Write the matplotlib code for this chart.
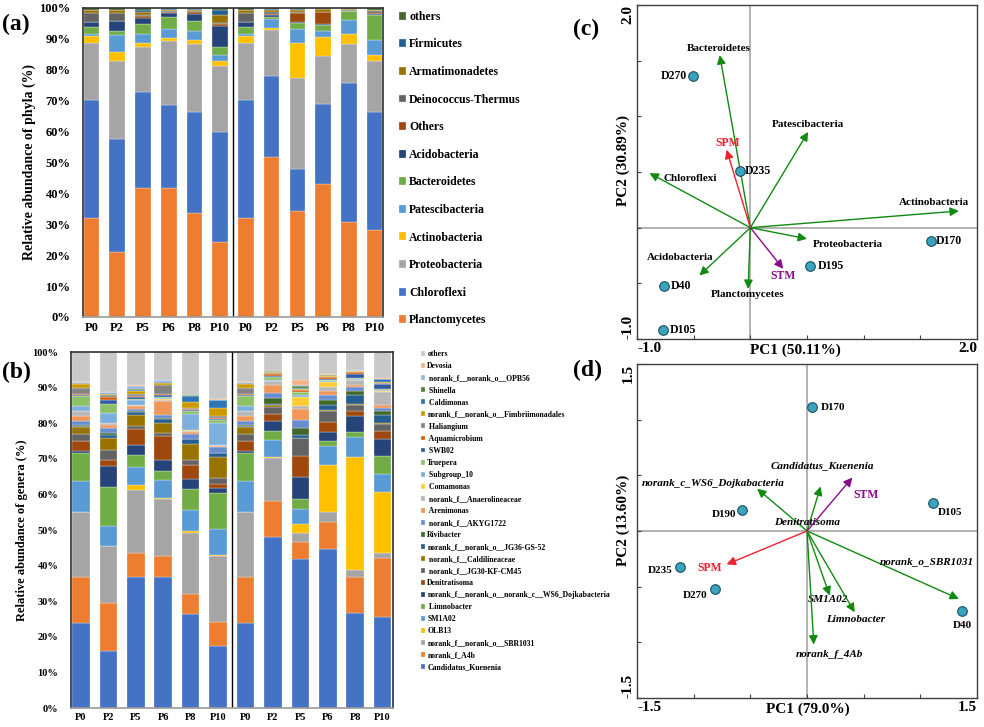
import matplotlib
matplotlib.use("Agg")
import matplotlib.pyplot as plt
import numpy as np

plt.rcParams["font.family"] = ["Liberation Serif", "DejaVu Serif"]
plt.rcParams["font.weight"] = "bold"
plt.rcParams["axes.labelweight"] = "bold"

# ---------------------------------------------------------------- data
SAMPLES = ["P0", "P2", "P5", "P6", "P8", "P10", "P0", "P2", "P5", "P6", "P8", "P10"]

# (a) phyla, bottom -> top
PHYLA = ["Planctomycetes", "Chloroflexi", "Proteobacteria", "Actinobacteria",
         "Patescibacteria", "Bacteroidetes", "Acidobacteria", "Others",
         "Deinococcus-Thermus", "Armatimonadetes", "Firmicutes", "others"]
PHYLA_COLORS = ["#ED7D31", "#4472C4", "#A5A5A5", "#FFC000", "#5B9BD5", "#70AD47",
                "#264478", "#9E480E", "#636363", "#997300", "#255E91", "#43682B"]

phy_p0 = [32.0, 38.3, 18.4, 2.1, 0.9, 2.0, 1.7, 0.2, 2.8, 0.8, 0.3, 0.5]
phy_p2a = [21.0, 36.7, 25.0, 3.0, 5.7, 1.3, 3.0, 0.2, 2.5, 0.8, 0.3, 0.5]
phy_p5a = [41.7, 31.0, 14.6, 1.4, 3.0, 3.0, 2.1, 0.5, 0.3, 1.1, 0.7, 0.6]
phy_p6a = [41.7, 26.8, 20.7, 1.1, 3.0, 3.8, 1.3, 0.3, 0.3, 0.5, 0.3, 0.2]
phy_p8a = [33.7, 32.5, 22.1, 1.4, 3.0, 3.0, 2.5, 0.4, 0.3, 0.6, 0.3, 0.2]
phy_p10a = [24.2, 35.6, 21.3, 1.9, 1.9, 2.4, 6.8, 0.7, 0.3, 2.7, 1.4, 0.8]
phy_p2b = [51.7, 26.4, 14.9, 0.6, 2.9, 0.5, 0.8, 0.4, 0.5, 0.8, 0.2, 0.3]
phy_p5b = [34.4, 13.5, 29.4, 11.4, 4.6, 1.8, 0.4, 2.9, 0.3, 0.8, 0.2, 0.3]
phy_p6b = [43.1, 25.9, 15.4, 6.2, 2.1, 1.7, 0.3, 3.9, 0.2, 0.9, 0.1, 0.2]
phy_p8b = [30.6, 45.1, 12.6, 3.4, 4.5, 2.7, 0.1, 0.1, 0.3, 0.2, 0.2, 0.2]
phy_p10b = [28.3, 37.9, 16.8, 1.9, 4.6, 8.3, 0.2, 0.3, 0.6, 0.3, 0.2, 0.6]

# (b) genera, bottom -> top
GENERA = ["Candidatus_Kuenenia", "norank_f_A4b", "norank_f__norank_o__SBR1031", "OLB13",
          "SM1A02", " Limnobacter", "norank_f__norank_o__norank_c__WS6_Dojkabacteria",
          "Denitratisoma", " norank_f__JG30-KF-CM45", " norank_f__Caldilineaceae",
          "norank_f__norank_o__JG36-GS-52", "Rivibacter", " norank_f__AKYG1722",
          " Arenimonas", " norank_f__Anaerolineaceae", " Comamonas", " Subgroup_10",
          "Truepera", " SWB02", " Aquamicrobium", " Haliangium",
          "norank_f__norank_o__Fimbriimonadales", " Caldimonas", " Shinella",
          " norank_f__norank_o__OPB56", "Devosia", "others"]
GENERA_COLORS = ["#4472C4", "#ED7D31", "#A5A5A5", "#FFC000", "#5B9BD5", "#70AD47",
                 "#264478", "#9E480E", "#636363", "#997300", "#255E91", "#43682B",
                 "#698ED0", "#F1975A", "#B7B7B7", "#FFCD33", "#7CAFDD", "#8CC168",
                 "#335AA1", "#D26012", "#848484", "#CC9A00", "#2E75B6", "#548235",
                 "#9DB4E0", "#F4B183", "#C9C9C9"]

gen_p0 = [23.8, 13.1, 18.2, 0.0, 8.7, 7.8, 0.7, 2.8, 1.9, 1.8, 0.4, 0.2, 1.3, 1.2,
          1.5, 0.1, 1.4, 2.8, 0.3, 0.3, 1.7, 1.0, 0.2, 0.1, 0.1, 0.1, 8.5]
gen_p2a = [16.1, 13.3, 16.1, 0.0, 5.6, 11.0, 5.9, 1.7, 2.7, 3.5, 0.8, 0.5, 1.5, 0.8,
           0.6, 0.0, 2.7, 2.5, 1.2, 0.9, 0.5, 0.4, 0.2, 0.1, 0.1, 0.1, 11.2]
gen_p5a = [36.9, 6.6, 17.7, 1.4, 5.0, 3.4, 2.9, 4.6, 0.8, 2.9, 0.9, 0.2, 0.8, 0.7,
           0.2, 0.1, 1.3, 0.4, 0.6, 0.2, 0.7, 0.8, 0.3, 0.2, 0.9, 0.1, 9.4]
gen_p6a = [36.9, 5.9, 15.8, 0.3, 5.1, 2.6, 3.0, 6.8, 0.9, 2.8, 1.2, 0.2, 0.7, 4.0,
           0.4, 0.1, 0.5, 0.3, 0.5, 0.2, 2.6, 0.6, 0.2, 0.1, 0.4, 0.1, 7.8]
gen_p8a = [26.4, 5.6, 17.3, 0.3, 6.0, 5.9, 2.9, 3.8, 1.4, 4.7, 1.2, 0.2, 1.4, 0.3,
           0.5, 0.1, 4.7, 0.7, 0.3, 0.3, 0.2, 1.8, 1.7, 0.1, 0.1, 0.1, 12.0]
gen_p10a = [17.3, 6.8, 18.6, 0.3, 7.2, 10.1, 1.6, 0.9, 1.9, 5.7, 1.1, 0.2, 1.5, 0.5,
            0.1, 0.1, 6.2, 0.7, 0.3, 0.3, 0.6, 2.4, 2.0, 0.1, 0.1, 0.1, 13.3]
gen_p2b = [48.1, 10.1, 11.9, 0.5, 4.8, 2.5, 2.6, 2.0, 2.1, 0.6, 0.3, 1.6, 1.5, 2.1,
           1.1, 0.1, 0.3, 0.9, 0.3, 0.5, 0.2, 0.2, 0.2, 0.1, 0.1, 0.1, 5.2]
gen_p5b = [41.8, 4.9, 2.4, 2.6, 4.1, 2.8, 6.4, 5.8, 5.1, 0.0, 0.9, 1.9, 2.1, 3.1,
           1.0, 2.5, 0.6, 0.8, 0.1, 0.3, 0.2, 0.2, 0.2, 0.7, 0.2, 1.5, 7.8]
gen_p6b = [44.7, 7.6, 2.7, 13.2, 5.4, 1.4, 2.6, 2.8, 3.0, 0.2, 1.4, 1.4, 1.6, 1.1,
           1.1, 1.4, 0.3, 0.3, 0.3, 0.5, 0.1, 0.1, 0.1, 0.2, 0.1, 0.2, 6.2]
gen_p8b = [26.8, 10.1, 1.9, 31.8, 5.4, 1.4, 4.7, 1.3, 1.6, 0.3, 2.6, 1.2, 1.1, 0.5,
           1.4, 0.1, 0.2, 0.2, 1.3, 0.5, 0.1, 0.1, 0.1, 0.1, 0.1, 0.1, 5.0]
gen_p10b = [25.7, 16.4, 1.5, 17.0, 5.0, 5.1, 4.8, 2.4, 1.8, 0.3, 2.2, 1.3, 0.9, 0.6,
            3.8, 0.3, 0.2, 0.4, 1.2, 0.1, 0.4, 0.2, 0.7, 0.1, 0.1, 0.1, 7.4]

# (c) PCA on phyla
c_samples = ["D270", "D235", "D170", "D195", "D40", "D105"]
c_pc1 = [-0.51, -0.09, 1.59, 0.53, -0.76, -0.77]
c_pc2 = [1.36, 0.51, -0.12, -0.34, -0.52, -0.92]
c_taxa = ["Bacteroidetes", "Patescibacteria", "Chloroflexi", "Actinobacteria",
          "Proteobacteria", "Planctomycetes", "Acidobacteria"]
c_taxa_x = [-0.27, 0.51, -0.89, 1.84, 0.50, -0.02, -0.45]
c_taxa_y = [1.55, 0.86, 0.49, 0.15, -0.10, -0.55, -0.43]
c_env = ["SPM", "STM"]
c_env_x = [-0.21, 0.29]
c_env_y = [0.70, -0.37]

# (d) PCA on genera
d_samples = ["D170", "D105", "D190", "D235", "D270", "D40"]
d_pc1 = [0.04, 1.11, -0.57, -1.12, -0.81, 1.37]
d_pc2 = [1.11, 0.25, 0.19, -0.32, -0.52, -0.72]
d_taxa = ["norank_c_WS6_Dojkabacteria", "Candidatus_Kuenenia", "norank_o_SBR1031",
          "SM1A02", "Limnobacter", "norank_f_4Ab"]
d_taxa_x = [-0.44, 0.12, 1.34, 0.20, 0.42, 0.06]
d_taxa_y = [0.38, 0.40, -0.61, -0.58, -0.73, -1.02]
d_env = ["STM", "SPM"]
d_env_x = [0.40, -0.71]
d_env_y = [0.48, -0.30]

# ---------------------------------------------------------------- layout
# label offsets in points (text position relative to arrow tip / point)
C_TAXA_OFF = {"Bacteroidetes": (-1, 5, "center"), "Patescibacteria": (0, 5, "center"),
              "Chloroflexi": (10, -4, "left"), "Actinobacteria": (-18, 6, "center"),
              "Proteobacteria": (4, -4, "left"), "Planctomycetes": (0, -4, "center"),
              "Acidobacteria": (-14, 13, "center")}
C_ENV_OFF = {"SPM": (1, 5, "center"), "STM": (0, -5, "center")}
C_SAMPLE_OFF = {"D270": (-4, 0, "right"), "D235": (3.5, 0, "left"), "D170": (4, 0, "left"),
                "D195": (5, 0, "left"), "D40": (5, 0, "left"), "D105": (5, 0, "left")}
D_TAXA_OFF = {"norank_c_WS6_Dojkabacteria": (-32, 4, "center"),
              "Candidatus_Kuenenia": (1, 15, "center"),
              "norank_o_SBR1031": (-23, 27, "center"), "SM1A02": (-1, -3, "center"),
              "Limnobacter": (1, -5, "center"), "norank_f_4Ab": (11.5, -7, "center")}
D_ENV_OFF = {"STM": (10, -12.5, "center"), "SPM": (-12, -2.5, "center")}
D_SAMPLE_OFF = {"D170": (7, 0, "left"), "D105": (12.5, -7, "center"),
                "D190": (-13.5, -3.5, "center"), "D235": (-14.5, -3, "center"),
                "D270": (-14.5, -5, "center"), "D40": (0, -10.5, "center")}

GREEN = "#118A11"
RED = "#F0212E"
PURPLE = "#8B0A8B"
POINT = "#3AA3BE"


def stacked_bars(ax, bars, colors, labels, width):
    data = np.array(bars, dtype=float).T
    x = np.arange(data.shape[1])
    bottom = np.zeros(data.shape[1])
    handles = []
    for vals, col, lab in zip(data, colors, labels):
        h = ax.bar(x, vals, width, bottom=bottom, color=col, label=lab,
                   edgecolor="white", linewidth=0.2)
        bottom += vals
        handles.append(h)
    ax.axvline(5.5, color="black", lw=1.0)
    ax.set_xticks(x)
    ax.set_xticklabels(SAMPLES)
    ax.set_ylim(0, 100)
    ax.set_yticks(np.arange(0, 101, 10))
    ax.set_yticklabels([f"{v}%" for v in range(0, 101, 10)])
    ax.tick_params(length=0)
    ax.tick_params(axis="y", pad=9)
    for s in ax.spines.values():
        s.set_color("#303030")
        s.set_linewidth(1.2)
    ax.spines["bottom"].set_color("#9A9A9A")
    return handles


def arrow(ax, x, y, color):
    ax.annotate("", xy=(x, y), xytext=(0, 0),
                arrowprops=dict(arrowstyle="-|>", color=color, lw=1.0,
                                mutation_scale=13, shrinkA=0, shrinkB=0))


def label(ax, x, y, text, off, color="black", size=8, style="normal"):
    dx, dy, ha = off
    ax.annotate(text, (x, y), xytext=(dx, dy), textcoords="offset points",
                ha=ha, va="center", fontsize=size, color=color, fontstyle=style,
                fontweight="bold")


def biplot_frame(ax, lo, hi, xlab, ylab, lx, ly):
    ax.set_xlim(lo, hi)
    ax.set_ylim(lo, hi)
    ax.axvline(0, color="#A6A6A6", lw=1.2, zorder=0)
    ax.axhline(0, color="#A6A6A6", lw=1.2, zorder=0)
    ticks = np.arange(lo, hi + 0.01, 0.5)
    ax.set_xticks(ticks)
    ax.set_yticks(ticks)
    names = [f"{lo:.1f}"] + [""] * (len(ticks) - 2) + [f"{hi:.1f}"]
    ax.set_xticklabels(names, fontsize=11)
    ax.set_yticklabels(names, fontsize=11, rotation=90)
    xl = ax.get_xticklabels()
    xl[0].set_ha("left")
    xl[-1].set_ha("right")
    yl = ax.get_yticklabels()
    yl[0].set_va("bottom")
    yl[-1].set_va("top")
    ax.tick_params(direction="in", length=3, pad=2, color="#404040")
    ax.set_xlabel(xlab, fontsize=11)
    ax.set_ylabel(ylab, fontsize=11)
    ax.xaxis.set_label_coords(lx, -0.014)
    ax.yaxis.set_label_coords(-0.022, ly)
    for s in ax.spines.values():
        s.set_color("#404040")
        s.set_linewidth(1.0)


fig = plt.figure(figsize=(9.84, 7.27), dpi=100)

# ---------------------------------------------------------------- (a)
ax_a = fig.add_axes([0.0843, 0.564, 0.305, 0.425])
phy_bars = [phy_p0, phy_p2a, phy_p5a, phy_p6a, phy_p8a, phy_p10a,
            phy_p0, phy_p2b, phy_p5b, phy_p6b, phy_p8b, phy_p10b]
h_a = stacked_bars(ax_a, phy_bars, PHYLA_COLORS, PHYLA, 0.61)
ax_a.set_xlim(-0.33, 11.33)
ax_a.tick_params(labelsize=9)
ax_a.set_ylabel("Relative abundance of phyla (%)", fontsize=10, labelpad=2)
ax_a.legend(h_a[::-1], PHYLA[::-1], loc="upper left", bbox_to_anchor=(0.405, 0.985),
            bbox_transform=fig.transFigure, frameon=False, fontsize=8.5,
            handlelength=0.65, handleheight=0.65, handletextpad=0.25,
            labelspacing=1.32, borderpad=0, borderaxespad=0)

# ---------------------------------------------------------------- (b)
ax_b = fig.add_axes([0.0722, 0.0261, 0.327, 0.4897])
gen_bars = [gen_p0, gen_p2a, gen_p5a, gen_p6a, gen_p8a, gen_p10a,
            gen_p0, gen_p2b, gen_p5b, gen_p6b, gen_p8b, gen_p10b]
h_b = stacked_bars(ax_b, gen_bars, GENERA_COLORS, GENERA, 0.64)
ax_b.set_xlim(-0.36, 11.37)
ax_b.tick_params(labelsize=7.5)
ax_b.set_ylabel("Relative abundance of genera (%)", fontsize=9, labelpad=3)
ax_b.legend(h_b[::-1], GENERA[::-1], loc="upper left", bbox_to_anchor=(0.428, 0.518),
            bbox_transform=fig.transFigure, frameon=False, fontsize=5.6,
            handlelength=0.5, handleheight=0.6, handletextpad=0.3,
            labelspacing=0.52, borderpad=0, borderaxespad=0)

# ---------------------------------------------------------------- (c)
ax_c = fig.add_axes([0.6474, 0.5337, 0.3455, 0.4594])
biplot_frame(ax_c, -1.0, 2.0, "PC1 (50.11%)", "PC2 (30.89%)", 0.465, 0.533)
for name, x, y in zip(c_taxa, c_taxa_x, c_taxa_y):
    arrow(ax_c, x, y, GREEN)
    label(ax_c, x, y, name, C_TAXA_OFF[name], size=8)
for name, x, y, col in zip(c_env, c_env_x, c_env_y, [RED, PURPLE]):
    arrow(ax_c, x, y, col)
    label(ax_c, x, y, name, C_ENV_OFF[name], color=col, size=8.5)
ax_c.scatter(c_pc1, c_pc2, s=48, color=POINT, edgecolors="#1E4F5E", linewidths=0.8, zorder=5)
for name, x, y in zip(c_samples, c_pc1, c_pc2):
    label(ax_c, x, y, name, C_SAMPLE_OFF[name], size=8.5)

# ---------------------------------------------------------------- (d)
ax_d = fig.add_axes([0.6474, 0.0399, 0.3455, 0.4594])
biplot_frame(ax_d, -1.5, 1.5, "PC1 (79.0%)", "PC2 (13.60%)", 0.503, 0.533)
for name, x, y in zip(d_taxa, d_taxa_x, d_taxa_y):
    arrow(ax_d, x, y, GREEN)
    label(ax_d, x, y, name, D_TAXA_OFF[name], size=8, style="italic")
ax_d.text(0.0, 0.075, "Denitratisoma", ha="center", va="center", fontsize=8,
          fontstyle="italic", fontweight="bold")
for name, x, y, col in zip(d_env, d_env_x, d_env_y, [PURPLE, RED]):
    arrow(ax_d, x, y, col)
    label(ax_d, x, y, name, D_ENV_OFF[name], color=col, size=8.5)
ax_d.scatter(d_pc1, d_pc2, s=48, color=POINT, edgecolors="#1E4F5E", linewidths=0.8, zorder=5)
for name, x, y in zip(d_samples, d_pc1, d_pc2):
    label(ax_d, x, y, name, D_SAMPLE_OFF[name], size=8)

# panel letters
for txt, x, y in [("(a)", 0.002, 0.967), ("(b)", 0.002, 0.488),
                  ("(c)", 0.582, 0.960), ("(d)", 0.582, 0.490)]:
    fig.text(x, y, txt, fontsize=17, fontweight="bold", va="center", ha="left")

fig.savefig("out.png", dpi=100)
